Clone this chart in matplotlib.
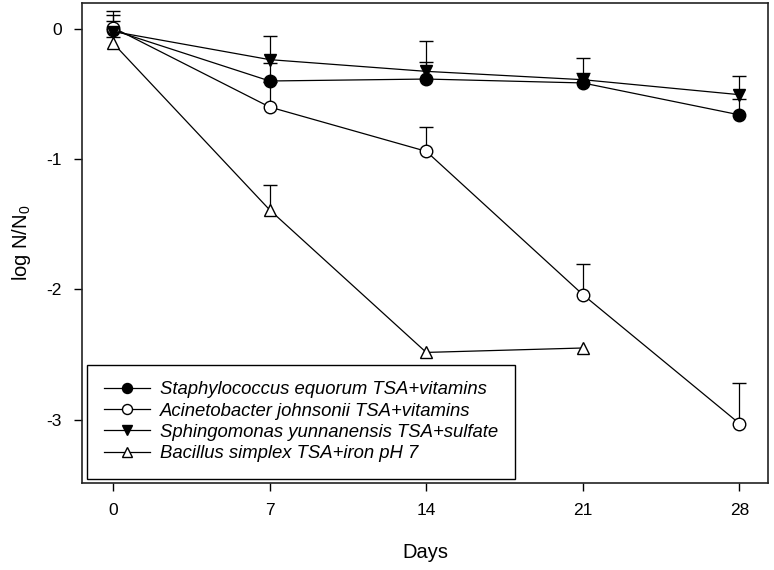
import numpy as np
import matplotlib
matplotlib.use("Agg")
import matplotlib.pyplot as plt

plt.rcParams['font.family'] = ['Liberation Sans', 'DejaVu Sans']
plt.rcParams['mathtext.fontset'] = 'custom'
plt.rcParams['mathtext.rm'] = 'Liberation Sans'

days = [0, 7, 14, 21, 28]
days_bac = [0, 7, 14, 21]

staph = [-0.01, -0.40, -0.385, -0.415, -0.66]
staph_err = [0.12, 0.14, 0.13, 0.08, 0.12]
acin = [0.01, -0.60, -0.94, -2.04, -3.03]
acin_err = [0.05, 0.19, 0.19, 0.235, 0.31]
sphingo = [-0.02, -0.236, -0.326, -0.39, -0.505]
sphingo_err = [0.155, 0.18, 0.235, 0.17, 0.14]
bacillus = [-0.11, -1.39, -2.484, -2.45]
bacillus_err = [0.05, 0.19, 0.0, 0.0]

labels = ["Staphylococcus equorum TSA+vitamins",
          "Acinetobacter johnsonii TSA+vitamins",
          "Sphingomonas yunnanensis TSA+sulfate",
          "Bacillus simplex TSA+iron pH 7"]

xticks = [0, 7, 14, 21, 28]
yticks = [0, -1, -2, -3]

fig = plt.figure(figsize=(7.74, 5.70), dpi=100)
ax = fig.add_axes([0.106, 0.153, 0.886, 0.842])

series = [
    (days, staph, staph_err, 'o', 'black'),
    (days, acin, acin_err, 'o', 'white'),
    (days, sphingo, sphingo_err, 'v', 'black'),
    (days_bac, bacillus, bacillus_err, '^', 'white'),
]
handles = []
for (x, y, e, m, fc), lab in zip(series, labels):
    x = np.asarray(x, float); y = np.asarray(y, float); e = np.asarray(e, float)
    ax.errorbar(x, y, yerr=[np.zeros_like(e), e], fmt='none', ecolor='black',
                elinewidth=0.9, capsize=0, zorder=2)
    mask = e > 0
    ax.plot(x[mask], (y + e)[mask], linestyle='none', marker='_', markersize=10,
            markeredgewidth=1.0, color='black', zorder=2)
    h, = ax.plot(x, y, color='black', lw=0.9, marker=m, markersize=9,
                 markerfacecolor=fc, markeredgecolor='black', markeredgewidth=1.0,
                 zorder=3, label=lab)
    handles.append(h)

ax.set_xlim(-1.39, 29.27)
ax.set_ylim(-3.485, 0.2)
ax.set_xticks(xticks)
ax.set_xticklabels([str(t) for t in xticks])
ax.set_yticks(yticks)
ax.set_yticklabels([str(t) for t in yticks])
ax.tick_params(direction='out', length=5.5, width=1.0, labelsize=12.5, pad=9, colors='black')
for s in ax.spines.values():
    s.set_linewidth(1.2)
    s.set_color('#222222')

ax.set_xlabel("Days", fontsize=14.5, labelpad=18)
ax.set_ylabel(r"log N/N$_{\mathregular{0}}$", fontsize=14.5, labelpad=10)

leg = ax.legend(handles=handles, loc='lower left', bbox_to_anchor=(0.0073, 0.0083),
                borderaxespad=0, fancybox=False, edgecolor='black', framealpha=1,
                prop={'style': 'italic', 'size': 13.3}, handlelength=2.5,
                handletextpad=0.55, labelspacing=0.23, borderpad=0.9,
                markerscale=0.8)
leg.get_frame().set_linewidth(1.0)

fig.savefig("out.png", dpi=100)
